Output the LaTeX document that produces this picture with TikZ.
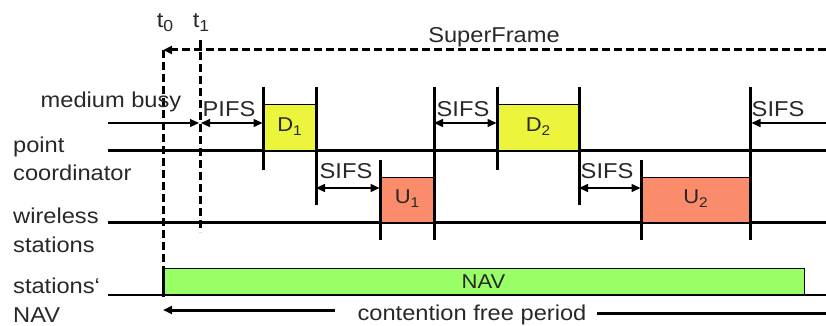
\documentclass[tikz,border=0pt]{standalone}
\usepackage{fontspec}
\setmainfont{Liberation Sans}[FakeStretch=1.1]
\usetikzlibrary{arrows.meta}
\definecolor{dyel}{RGB}{236,245,60}
\definecolor{usal}{RGB}{250,140,108}
\definecolor{navg}{RGB}{153,255,102}
\definecolor{txt}{RGB}{40,40,40}
\newcommand{\lbl}{\fontsize{21.5}{24}\selectfont}
\newcommand{\blbl}{\fontsize{20}{22}\selectfont}
\newcommand{\sub}[1]{\raisebox{-0.4ex}{\fontsize{14}{15}\selectfont #1}}
\newcommand{\tsub}[1]{\raisebox{-0.35ex}{\fontsize{16}{17}\selectfont #1}}
\begin{document}
\begin{tikzpicture}[x=1pt,y=-1pt,
  lab/.style={font=\lbl,text=txt,inner sep=0pt,anchor=base},
  llab/.style={font=\lbl,text=txt,inner sep=0pt,anchor=base west},
  blab/.style={font=\blbl,text=txt,inner sep=0pt},
  thickline/.style={line width=3pt},
  bar/.style={line width=3pt},
  dline/.style={line width=3pt,dash pattern=on 8pt off 4pt},
  box/.style={draw=black,line width=1pt},
  tip/.style={-{Triangle[length=9pt,width=8pt]}},
  dtip/.style={{Triangle[length=9pt,width=8pt]}-{Triangle[length=9pt,width=8pt]}},
  arr/.style={line width=1.5pt}]
\useasboundingbox (0,0) rectangle (826,326);
% coordinates
\coordinate (mbL) at (108,123);
\coordinate (t0top) at (163,50);
\coordinate (t0bot) at (163,268);
\coordinate (t1top) at (200,40);
\coordinate (t1bot) at (200,232);
\coordinate (t1m) at (200,123);
\coordinate (sfR) at (826,50);
% rows
\draw[thickline] (108,150) -- (826,150);
\draw[thickline] (108,222) -- (826,222);
% boxes
\node[box,fill=dyel,minimum width=53pt,minimum height=45pt,inner sep=0pt] (D1) at (289.5,127.5) {};
\node[box,fill=usal,minimum width=54pt,minimum height=45pt,inner sep=0pt] (U1) at (407,199.5) {};
\node[box,fill=dyel,minimum width=82pt,minimum height=45pt,inner sep=0pt] (D2) at (538,127.5) {};
\node[box,fill=usal,minimum width=109pt,minimum height=45pt,inner sep=0pt] (U2) at (695.5,199.5) {};
\node[box,fill=navg,minimum width=641pt,minimum height=27pt,inner sep=0pt] (NAVb) at (483.5,281.5) {};
\node[blab] at ([yshift=1pt]D1.center) {D\sub{1}};
\node[blab] at ([yshift=1pt]U1.center) {U\sub{1}};
\node[blab] at ([yshift=1pt]D2.center) {D\sub{2}};
\node[blab] at ([yshift=1pt]U2.center) {U\sub{2}};
\node[blab] at (NAVb.center) {NAV};
\draw[line width=2.5pt] (108,295) -- (826,295);
% vertical bars
\draw[bar] (263,87) -- (263,170);
\draw[bar] (316,87) -- (316,205);
\draw[bar] (380,160) -- (380,240);
\draw[bar] (434,87) -- (434,240);
\draw[bar] (497,87) -- (497,170);
\draw[bar] (579,87) -- (579,205);
\draw[bar] (641,160) -- (641,240);
\draw[bar] (750,87) -- (750,240);
% dashed time lines
\draw[dline] (t0top) -- (t0bot);
\draw[bar] (163,268) -- (163,297);
\draw[dline] (t1top) -- (t1bot);
\draw[line width=3pt,dash pattern=on 8pt off 4pt,tip] (sfR) -- (t0top);
% medium busy and IFS arrows
\draw[line width=1.2pt,tip] (mbL) -- ([xshift=-1pt]t1m);
\draw[arr,dtip] ([xshift=1pt]t1m) -- (D1.west |- t1m);
\draw[arr,dtip] (316,188) -- (U1.west |- 0,188);
\draw[arr,dtip] (434,123) -- (D2.west |- 0,123);
\draw[arr,dtip] (579,188) -- (U2.west |- 0,188);
\coordinate (sR) at (826,123);
\draw[arr,tip] (sR) -- (751.5,123);
% contention free period
\coordinate (cfA) at (335,310);
\coordinate (cfB) at (597,313);
\coordinate (cfC) at (826,313);
\draw[line width=3pt,tip] (cfA) -- (163,310);
\draw[line width=3pt] (cfB) -- (cfC);
% labels
\node[lab] (t0) at (165,28) {t\tsub{0}};
\node[lab] (t1) at (201,28) {t\tsub{1}};
\node[lab] (sf) at (494,43) {SuperFrame};
\node[lab] (mb) at (111,107) {medium busy};
\node[lab] (pifs) at (229,117) {PIFS};
\node[lab] (s1) at (346,178) {SIFS};
\node[lab] (s2) at (463,117) {SIFS};
\node[lab] (s3) at (607,178) {SIFS};
\node[lab] (s4) at (778,117) {SIFS};
\node[llab] (p1) at (13,152) {point};
\node[llab] (p2) at (13,180) {coordinator};
\node[llab] (w1) at (13,223) {wireless};
\node[llab] (w2) at (13,252) {stations};
\node[llab] (n1) at (13,293) {stations‘};
\node[llab] (n2) at (13,322) {NAV};
\node[lab] (cfp) at (472,320) {contention free period};
\end{tikzpicture}
\end{document}
